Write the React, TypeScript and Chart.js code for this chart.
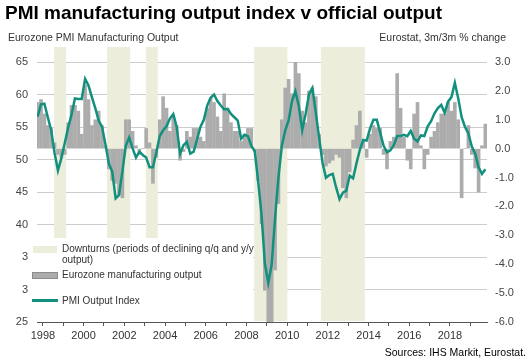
import React, { useEffect, useRef } from 'react';
import { Chart, registerables } from 'chart.js';

Chart.register(...registerables);

// Time grid: first observation (fractional year) and spacing (2 months)
const startYear = 1997.74;
const stepYears = 1 / 6;

// Eurozone PMI Manufacturing Output Index (left axis)
const pmiOutputIndex = [
  56.6, 58.5, 58.6, 56.5, 54.5, 51.0, 48.3, 50.2, 52.5, 54.9,
  56.9, 59.4, 59.3, 59.3, 62.4, 61.4, 59.6, 57.9, 56.0, 55.0,
  52.3, 49.4, 48.1, 44.0, 44.5, 48.2, 52.1, 53.4, 51.7, 50.3,
  51.2, 50.7, 50.3, 48.8, 48.8, 51.1, 53.6, 54.5, 55.1, 56.3,
  57.0, 55.0, 50.9, 52.2, 52.7, 50.9, 51.2, 53.1, 55.0, 56.1,
  58.3, 59.5, 60.0, 59.0, 58.3, 57.7, 57.8, 57.0, 56.5, 56.0,
  53.2, 53.8, 53.6, 52.1, 51.3, 46.7, 41.6, 34.0, 31.0, 33.8,
  41.0, 47.3, 52.1, 54.5, 56.0, 59.0, 60.5, 58.2, 54.5, 57.0,
  60.0, 61.0, 57.3, 53.3, 49.5, 47.2, 47.6, 47.8, 45.7, 43.9,
  44.9, 45.2, 47.5, 47.1, 49.4, 51.5, 53.0, 52.9, 54.8, 56.1,
  56.1, 54.1, 52.1, 51.1, 51.4, 52.2, 53.6, 53.6, 53.8, 53.6,
  54.4, 53.2, 52.8, 53.7, 53.6, 55.1, 55.9, 57.1, 57.9, 58.4,
  57.2, 58.9, 59.6, 61.8, 59.4, 56.5, 55.0, 54.0, 52.0, 50.9,
  48.8, 47.8, 48.5,
];

// Eurostat manufacturing output, 3m/3m % change (right axis)
const mfgOutputChange = [
  1.6, 1.7, 1.2, 0.8, 0.7, 0.2, -0.2, -0.3, -0.2, 0.9,
  1.5, 1.5, 1.3, 0.5, 2.2, 1.7, 0.8, 1.0, 1.3, 0.8,
  0.1, -0.7, -1.1, -1.2, -1.6, -1.7, 1.0, 1.0, 0.6, 0.1,
  -0.2, 0.0, 0.7, 0.2, -1.2, -0.3, 1.0, 1.8, 1.4, 0.6,
  1.1, 0.8, -0.4, -0.1, 0.6, 0.4, 0.7, 0.7, 0.4, 0.25,
  1.4, 1.75, 1.6, 1.1, 0.6, 1.9, 1.4, 0.9, 0.6, 0.6,
  0.25, 0.5, 0.7, 0.7, -0.1, -1.1, -2.6, -4.9, -6.0, -6.0,
  -4.2, -1.9, 1.0, 2.1, 2.4, 1.9, 3.0, 2.6, 1.3, 0.9,
  2.0, 2.1, 1.8, 0.5, -0.2, -0.6, -0.5, -0.4, -0.2, -0.3,
  -1.35, -1.7, -0.8, 0.3, 0.8, 1.3, 0.3, -0.3, 0.5, 0.8,
  0.7, 0.7, -0.2, -0.7, 0.25, 0.4, 2.6, 1.4, 0.4, -0.4,
  -0.7, 1.2, 1.6, 0.1, -0.7, -0.2, 0.4, 0.6, 0.9, 1.2,
  1.2, 1.6, 1.3, 1.6, 1.0, -1.7, 0.0, 0.8, -0.2, -0.67,
  -1.5, 0.1, 0.85,
];

// Downturn periods (fractional years)
const downturnStart = [1998.55, 2001.15, 2003.06, 2008.38, 2011.66];
const downturnEnd = [1999.14, 2002.29, 2003.64, 2010.01, 2013.82];

// Axis ranges
const xMin = 1997.71;
const xMax = 2019.82;
const leftMin = 25;
const leftMax = 65;
const rightMin = -6;
const rightMax = 3;

const TEAL = '#12907e';
const BAND = '#ededdb';
const BAR = '#acacac';
const FONT = "'Liberation Sans', Arial, sans-serif";

export default function App() {
  const ref = useRef<HTMLCanvasElement>(null);

  useEffect(() => {
    document.body.style.margin = '0';
    const xs = pmiOutputIndex.map((_, i) => startYear + i * stepYears);

    const bandPlugin = {
      id: 'downturnBands',
      beforeDatasetsDraw(chart: any) {
        const { ctx, chartArea, scales } = chart;
        ctx.save();
        ctx.fillStyle = BAND;
        downturnStart.forEach((s, k) => {
          const x0 = scales.x.getPixelForValue(s);
          const x1 = scales.x.getPixelForValue(downturnEnd[k]);
          const top = chartArea.top - 15;
          ctx.fillRect(x0, top, x1 - x0, chartArea.bottom - 1 - top);
        });
        ctx.restore();
      },
    };

    Chart.defaults.font.family = FONT;
    Chart.defaults.font.size = 11;
    Chart.defaults.color = '#444';

    const chart = new Chart(ref.current as HTMLCanvasElement, {
      type: 'bar',
      data: {
        datasets: [
          {
            type: 'line',
            label: 'PMI Output Index',
            data: xs.map((x, i) => ({ x, y: pmiOutputIndex[i] })),
            yAxisID: 'y',
            borderColor: TEAL,
            borderWidth: 2.5,
            pointRadius: 0,
            tension: 0,
            order: 0,
          } as any,
          {
            type: 'bar',
            label: 'Eurozone manufacturing output',
            data: xs.map((x, i) => ({ x, y: mfgOutputChange[i] })),
            yAxisID: 'y1',
            backgroundColor: BAR,
            barThickness: 3,
            order: 1,
          } as any,
        ],
      },
      options: {
        animation: false,
        responsive: false,
        layout: { padding: { top: 62, left: 0, right: 0, bottom: 0 } },
        plugins: { legend: { display: false }, tooltip: { enabled: false }, title: { display: false } },
        scales: {
          x: {
            type: 'linear',
            min: xMin,
            max: xMax,
            offset: false,
            grid: { drawOnChartArea: false, drawTicks: true, tickLength: 4, color: '#555', offset: false },
            border: { display: true, color: '#555' },
            ticks: {
              stepSize: 1,
              includeBounds: false,
              autoSkip: false,
              maxRotation: 0,
              padding: 3,
              color: '#333',
              callback: (v: any) => (Number(v) % 2 === 0 ? String(v) : ''),
            },
            afterFit: (s: any) => { s.height = 41; },
          } as any,
          y: {
            position: 'left',
            min: leftMin,
            max: leftMax,
            ticks: {
              stepSize: 5,
              padding: 9,
              color: '#444',
              callback: (v: any) => (Number(v) === 35 || Number(v) === 30 ? '3' : String(v)),
            },
            grid: { color: '#cccccc', drawTicks: false },
            border: { display: false },
            afterFit: (s: any) => { s.width = 37; },
          } as any,
          y1: {
            position: 'right',
            min: rightMin,
            max: rightMax,
            ticks: { stepSize: 1, padding: 8, color: '#444', callback: (v: any) => Number(v).toFixed(1) },
            grid: { drawOnChartArea: false, drawTicks: false },
            border: { display: false },
            afterFit: (s: any) => { s.width = 43; },
          } as any,
        },
      },
      plugins: [bandPlugin],
    });
    return () => chart.destroy();
  }, []);

  const txt: React.CSSProperties = { position: 'absolute', fontFamily: FONT, color: '#333', whiteSpace: 'nowrap' };

  return (
    <div style={{ position: 'relative', width: 530, height: 363, background: '#fff', overflow: 'hidden' }}>
      <canvas ref={ref} width={530} height={363} style={{ position: 'absolute', left: 0, top: 0, width: 530, height: 363 }} />
      <div style={{ ...txt, left: 5, top: 3, fontSize: 19, fontWeight: 'bold', color: '#000', lineHeight: '20px' }}>
        PMI manufacturing output index v official output
      </div>
      <div style={{ ...txt, left: 8, top: 31, fontSize: 10.5, lineHeight: '13px' }}>Eurozone PMI Manufacturing Output</div>
      <div style={{ ...txt, right: 24, top: 31, fontSize: 10.5, lineHeight: '13px' }}>Eurostat, 3m/3m % change</div>
      <div style={{ ...txt, right: 4, top: 346, fontSize: 10.5, lineHeight: '13px', color: '#000' }}>Sources: IHS Markit, Eurostat.</div>

      {/* Legend box over the plot */}
      <div style={{ position: 'absolute', left: 30, top: 238, width: 223, height: 83, background: '#fff' }} />
      <div style={{ position: 'absolute', left: 33, top: 246, width: 24, height: 7, background: BAND }} />
      <div style={{ ...txt, left: 62, top: 243, fontSize: 10, lineHeight: '11px' }}>
        Downturns (periods of declining q/q and y/y<br />output)
      </div>
      <div style={{ position: 'absolute', left: 32, top: 272, width: 24, height: 5, background: BAR, border: '1px solid #8c8c8c' }} />
      <div style={{ ...txt, left: 62, top: 269, fontSize: 10, lineHeight: '11px' }}>Eurozone manufacturing output</div>
      <div style={{ position: 'absolute', left: 32, top: 299, width: 26, height: 3, background: TEAL }} />
      <div style={{ ...txt, left: 62, top: 295, fontSize: 10, lineHeight: '11px' }}>PMI Output Index</div>
    </div>
  );
}
